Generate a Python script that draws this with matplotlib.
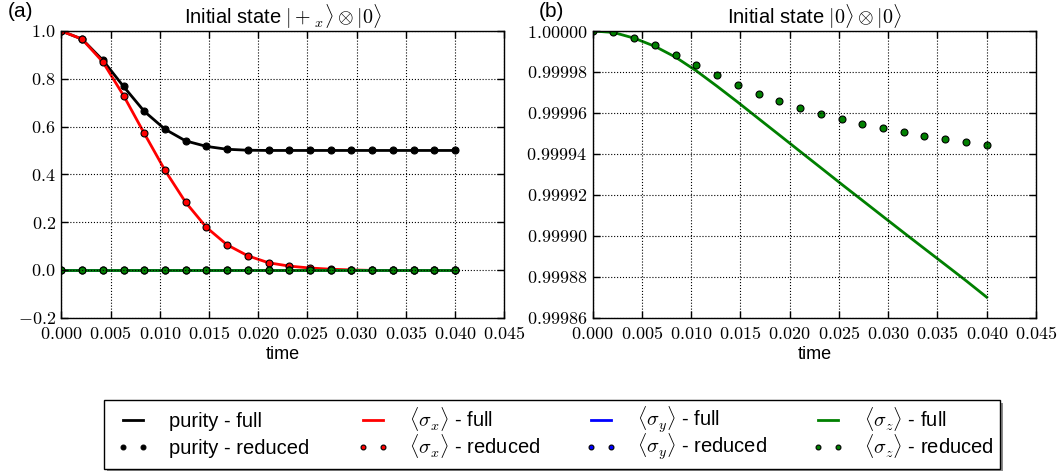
import matplotlib
matplotlib.use('Agg')
import matplotlib.pyplot as plt
import numpy as np
from matplotlib.patches import Rectangle
from matplotlib.ticker import FuncFormatter

plt.rcParams['font.family'] = ['Liberation Sans', 'DejaVu Sans']
plt.rcParams['mathtext.fontset'] = 'cm'

# sample times (20 steps up to 0.04)
time = [0.0, 0.00211, 0.00421, 0.00632, 0.00842, 0.01053, 0.01263, 0.01474,
        0.01684, 0.01895, 0.02105, 0.02316, 0.02526, 0.02737, 0.02947,
        0.03158, 0.03368, 0.03579, 0.03789, 0.04]

# (a) initial state |+x> (x) |0>
purity_a_full = [1.0, 0.966, 0.878, 0.768, 0.664, 0.589, 0.540, 0.517, 0.505,
                 0.501, 0.500, 0.500, 0.500, 0.500, 0.500, 0.500, 0.500,
                 0.500, 0.500, 0.500]
purity_a_reduced = [1.0, 0.966, 0.878, 0.768, 0.664, 0.589, 0.540, 0.517,
                    0.505, 0.501, 0.500, 0.500, 0.500, 0.500, 0.500, 0.500,
                    0.500, 0.500, 0.500, 0.500]
sx_a_full = [1.0, 0.966, 0.871, 0.730, 0.572, 0.417, 0.283, 0.178, 0.105,
             0.059, 0.030, 0.016, 0.008, 0.003, 0.0, -0.002, -0.002, -0.002,
             -0.002, -0.002]
sx_a_reduced = [1.0, 0.966, 0.871, 0.730, 0.572, 0.417, 0.283, 0.178, 0.105,
                0.059, 0.030, 0.016, 0.008, 0.003, 0.001, 0.0, 0.0, 0.0, 0.0,
                0.0]
sy_a_full = [0.0] * 20
sy_a_reduced = [0.0] * 20
sz_a_full = [0.0] * 20
sz_a_reduced = [0.0] * 20

# (b) initial state |0> (x) |0>
sz_b_full = [1.0, 0.9999993, 0.9999965, 0.9999925, 0.9999872, 0.9999805,
             0.9999730, 0.9999652, 0.9999572, 0.9999492, 0.9999412,
             0.9999332, 0.9999252, 0.9999173, 0.9999094, 0.9999015,
             0.9998937, 0.9998859, 0.9998781, 0.9998700]
sz_b_reduced = [1.0, 0.9999994, 0.9999967, 0.9999930, 0.9999884, 0.9999833,
                0.9999784, 0.9999736, 0.9999694, 0.9999657, 0.9999624,
                0.9999595, 0.9999569, 0.9999546, 0.9999525, 0.9999505,
                0.9999487, 0.9999471, 0.9999457, 0.9999442]

xticks = [0.0, 0.005, 0.010, 0.015, 0.020, 0.025, 0.030, 0.035, 0.040, 0.045]
yticks_a = [-0.2, 0.0, 0.2, 0.4, 0.6, 0.8, 1.0]
yticks_b = [0.99986, 0.99988, 0.99990, 0.99992, 0.99994, 0.99996, 0.99998,
            1.00000]

names = ['purity', r'$\langle\sigma_x\rangle$', r'$\langle\sigma_y\rangle$',
         r'$\langle\sigma_z\rangle$']
colors = ['k', 'r', 'b', 'g']

LW = 2.0
MS = 5.0
W, H = 1059, 472   # figure size in pixels


def style_axes(ax, yticks, yfmt, title):
    ax.set_xlim(0, 0.045)
    ax.set_xticks(xticks)
    ax.set_yticks(yticks)
    ax.set_ylim(yticks[0], yticks[-1])
    ax.xaxis.set_major_formatter(FuncFormatter(lambda v, p: '$%.3f$' % v))
    ax.yaxis.set_major_formatter(FuncFormatter(lambda v, p: yfmt % v))
    ax.tick_params(direction='in', top=True, right=True, length=5, width=1,
                   labelsize=13)
    ax.tick_params(axis='x', pad=6)
    ax.tick_params(axis='y', pad=4)
    ax.grid(True, color='k', linestyle=':', linewidth=0.8)
    ax.set_axisbelow(False)
    for s in ax.spines.values():
        s.set_linewidth(1.0)
    ax.set_xlabel('time', fontsize=13, labelpad=2)
    ax.set_title(title, fontsize=14.5, pad=5)


def handle_y(h):
    """Vertical pixel position of a legend handle."""
    pts = np.column_stack([h.get_xdata(), h.get_ydata()])
    return h.get_transform().transform(pts)[:, 1].mean()


fig = plt.figure(figsize=(W / 100, H / 100), dpi=100)
ax_a = fig.add_axes([61.3 / W, 1 - 317.7 / H, 443 / W, 286.7 / H])
ax_b = fig.add_axes([592.7 / W, 1 - 317.7 / H, 443.3 / W, 286.7 / H])

handles = []
series_a = [(purity_a_full, purity_a_reduced), (sx_a_full, sx_a_reduced),
            (sy_a_full, sy_a_reduced), (sz_a_full, sz_a_reduced)]
for (full, reduced), c in zip(series_a, colors):
    h1, = ax_a.plot(time, full, '-', color=c, lw=LW)
    h2, = ax_a.plot(time, reduced, 'o', color=c, ms=MS, mec='k', mew=0.8)
    handles.append((h1, h2))

ax_b.plot(time, sz_b_full, '-', color='g', lw=LW)
ax_b.plot(time, sz_b_reduced, 'o', color='g', ms=MS, mec='k', mew=0.8)

style_axes(ax_a, yticks_a, '$%.1f$', r'Initial state $|+_x\rangle \otimes |0\rangle$')
style_axes(ax_b, yticks_b, '$%.5f$', r'Initial state $|0\rangle \otimes |0\rangle$')

fig.text(0.007, 0.995, '(a)', fontsize=15, va='top', ha='left')
fig.text(0.509, 0.995, '(b)', fontsize=15, va='top', ha='left')

# legend box below the panels: white frame with a grey drop shadow
box_x0, box_x1, box_y0, box_y1 = 104, 1000, 400, 468.5
fig.add_artist(Rectangle(((box_x0 + 2.5) / W, 1 - (box_y1 + 2.5) / H),
                         (box_x1 - box_x0) / W, (box_y1 - box_y0) / H,
                         transform=fig.transFigure, facecolor='0.55',
                         edgecolor='none', zorder=1))
fig.add_artist(Rectangle((box_x0 / W, 1 - box_y1 / H),
                         (box_x1 - box_x0) / W, (box_y1 - box_y0) / H,
                         transform=fig.transFigure, facecolor='white',
                         edgecolor='k', lw=1.0, zorder=1.5))

# one legend per column; spacing and anchor tuned so the handles of each
# row sit on the same height in every column
col_x = [117, 357, 585, 812]
row_y = [H - 420, H - 447]     # row heights, pixels from the bottom
fs = 14.5
fig.canvas.draw()
for (h1, h2), name, x in zip(handles, names, col_x):
    labels = [name + ' - full', name + ' - reduced']
    spacing = 0.3
    anchor_y = sum(row_y) / 2
    for _ in range(6):
        leg = fig.legend([h1, h2], labels, loc='center left',
                         bbox_to_anchor=(x / W, anchor_y / H),
                         fontsize=fs, numpoints=2, markerscale=0.7,
                         handlelength=1.6, handletextpad=1.0,
                         labelspacing=spacing, borderpad=0, borderaxespad=0,
                         frameon=False)
        leg.set_zorder(3)
        fig.canvas.draw()
        lh = leg.legend_handles
        y1, y2 = handle_y(lh[0]), handle_y(lh[1])
        err_pitch = (row_y[0] - row_y[1]) - (y1 - y2)
        err_pos = row_y[0] - y1 - err_pitch / 2
        if abs(err_pitch) < 0.3 and abs(err_pos) < 0.3:
            break
        leg.remove()
        spacing += err_pitch / (fs * 100 / 72)
        anchor_y += err_pos

fig.savefig('out.png', dpi=100)
